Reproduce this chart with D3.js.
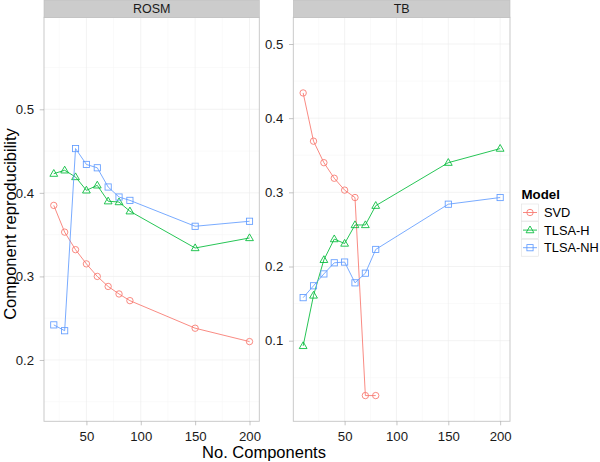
<!DOCTYPE html>
<html><head><meta charset="utf-8">
<script src="https://cdn.jsdelivr.net/npm/d3@7"></script>
<style>body{margin:0;background:#fff}svg{font-family:"Liberation Sans",Arial,sans-serif}</style>
</head><body><svg id="c" width="600" height="462"></svg>
<script>
const seriesNames = ["SVD", "TLSA-H", "TLSA-NH"];
const colors = ["#F8766D", "#00BA38", "#619CFF"];
const shapes = ["circle", "triangle", "square"];

// ROSM panel
const rosmX = [20, 30, 40, 50, 60, 70, 80, 90, 150, 200];
const rosmSVD = [0.385, 0.353, 0.332, 0.315, 0.300, 0.288, 0.279, 0.271, 0.238, 0.222];
const rosmTLSAH = [0.423, 0.427, 0.419, 0.403, 0.409, 0.390, 0.389, 0.378, 0.334, 0.346];
const rosmTLSANH = [0.242, 0.235, 0.453, 0.434, 0.430, 0.407, 0.395, 0.391, 0.360, 0.366];

// TB panel
const tbX = [10, 20, 30, 40, 50, 60, 70, 80, 150, 200];
const tbSVDX = [10, 20, 30, 40, 50, 60, 70, 80];
const tbSVD = [0.434, 0.369, 0.340, 0.319, 0.303, 0.293, 0.026, 0.026];
const tbTLSAH = [0.093, 0.161, 0.209, 0.237, 0.231, 0.256, 0.256, 0.282, 0.340, 0.359];
const tbTLSANH = [0.158, 0.174, 0.190, 0.205, 0.206, 0.178, 0.191, 0.223, 0.284, 0.293];

const xTicks = [50, 100, 150, 200];
const xMinor = [25, 75, 125, 175];
const rosmYTicks = [0.2, 0.3, 0.4, 0.5];
const rosmYMinor = [0.15, 0.25, 0.35, 0.45, 0.55];
const tbYTicks = [0.1, 0.2, 0.3, 0.4, 0.5];
const tbYMinor = [0.05, 0.15, 0.25, 0.35, 0.45];

const svg = d3.select("#c");
const panelTop = 17.3, panelBottom = 421.3, stripTop = 0;

const panels = [
  { title: "ROSM", x0: 44, x1: 259.3, xdom: [11, 209], ydom: [0.1266, 0.6101],
    yTicks: rosmYTicks, yMinor: rosmYMinor,
    series: [ {x: rosmX, y: rosmSVD}, {x: rosmX, y: rosmTLSAH}, {x: rosmX, y: rosmTLSANH} ] },
  { title: "TB", x0: 293.3, x1: 510, xdom: [0.5, 209.5], ydom: [-0.0087, 0.536],
    yTicks: tbYTicks, yMinor: tbYMinor,
    series: [ {x: tbSVDX, y: tbSVD}, {x: tbX, y: tbTLSAH}, {x: tbX, y: tbTLSANH} ] }
];

function drawShape(g, type, cx, cy, color) {
  if (type === "circle") {
    g.append("circle").attr("cx", cx).attr("cy", cy).attr("r", 3.2)
      .attr("fill", "none").attr("stroke", color).attr("stroke-width", 0.85);
  } else if (type === "triangle") {
    const s = 4.1;
    g.append("path").attr("d", `M${cx},${cy - s}L${cx + s * 0.95},${cy + s * 0.65}L${cx - s * 0.95},${cy + s * 0.65}Z`)
      .attr("fill", "none").attr("stroke", color).attr("stroke-width", 0.85);
  } else {
    const s = 3.1;
    g.append("rect").attr("x", cx - s).attr("y", cy - s).attr("width", 2 * s).attr("height", 2 * s)
      .attr("fill", "none").attr("stroke", color).attr("stroke-width", 0.85);
  }
}

panels.forEach(p => {
  const x = d3.scaleLinear().domain(p.xdom).range([p.x0, p.x1]);
  const y = d3.scaleLinear().domain(p.ydom).range([panelBottom, panelTop]);
  const g = svg.append("g");
  g.append("rect").attr("x", p.x0).attr("y", panelTop).attr("width", p.x1 - p.x0).attr("height", panelBottom - panelTop).attr("fill", "#fff");
  p.yMinor.forEach(v => g.append("line").attr("x1", p.x0).attr("x2", p.x1).attr("y1", y(v)).attr("y2", y(v)).attr("stroke", "#F7F7F7").attr("stroke-width", 0.6));
  xMinor.forEach(v => g.append("line").attr("y1", panelTop).attr("y2", panelBottom).attr("x1", x(v)).attr("x2", x(v)).attr("stroke", "#F7F7F7").attr("stroke-width", 0.6));
  p.yTicks.forEach(v => g.append("line").attr("x1", p.x0).attr("x2", p.x1).attr("y1", y(v)).attr("y2", y(v)).attr("stroke", "#EBEBEB").attr("stroke-width", 0.6));
  xTicks.forEach(v => g.append("line").attr("y1", panelTop).attr("y2", panelBottom).attr("x1", x(v)).attr("x2", x(v)).attr("stroke", "#EBEBEB").attr("stroke-width", 0.6));
  g.append("rect").attr("x", p.x0).attr("y", panelTop).attr("width", p.x1 - p.x0).attr("height", panelBottom - panelTop)
    .attr("fill", "none").attr("stroke", "#C4C4C4").attr("stroke-width", 0.9);
  g.append("rect").attr("x", p.x0).attr("y", stripTop).attr("width", p.x1 - p.x0).attr("height", panelTop - stripTop)
    .attr("fill", "#CCCCCC").attr("stroke", "#BDBDBD").attr("stroke-width", 0.6);
  g.append("text").attr("x", (p.x0 + p.x1) / 2).attr("y", 13.3).attr("text-anchor", "middle")
    .attr("font-size", 12.5).attr("fill", "#1a1a1a").text(p.title);
  const xa = d3.axisBottom(x).tickValues(xTicks).tickSize(4).tickPadding(6).tickFormat(d3.format("d"));
  const xg = g.append("g").attr("transform", `translate(0,${panelBottom})`).call(xa);
  const ya = d3.axisLeft(y).tickValues(p.yTicks).tickSize(4.3).tickPadding(5.7).tickFormat(d3.format(".1f"));
  const yg = g.append("g").attr("transform", `translate(${p.x0},0)`).call(ya);
  [xg, yg].forEach(a => {
    a.select(".domain").remove();
    a.selectAll(".tick line").attr("stroke", "#9E9E9E").attr("stroke-width", 0.6);
    a.selectAll(".tick text").attr("font-size", 13.2).attr("fill", "#1a1a1a").attr("font-family", "Liberation Sans, Arial, sans-serif");
  });
  p.series.forEach((s, i) => {
    const pts = s.x.map((xv, j) => [x(xv), y(s.y[j])]);
    g.append("path").attr("d", d3.line()(pts)).attr("fill", "none").attr("stroke", colors[i]).attr("stroke-width", 0.85);
    pts.forEach(pt => drawShape(g, shapes[i], pt[0], pt[1], colors[i]));
  });
});

svg.append("text").attr("x", 264).attr("y", 458).attr("text-anchor", "middle").attr("font-size", 16.5).attr("fill", "#000").text("No. Components");
svg.append("text").attr("transform", "translate(15.5,224) rotate(-90)").attr("text-anchor", "middle").attr("font-size", 16.5).attr("fill", "#000").text("Component reproducibility");

const lg = svg.append("g");
lg.append("text").attr("x", 521.5).attr("y", 199).attr("font-size", 13.3).attr("font-weight", "bold").attr("fill", "#000").text("Model");
seriesNames.forEach((n, i) => {
  const cy = 212.5 + i * 17.6;
  lg.append("rect").attr("x", 521.5).attr("y", cy - 8.5).attr("width", 17).attr("height", 17)
    .attr("fill", "#fff").attr("stroke", "#E0E0E0").attr("stroke-width", 0.6);
  lg.append("line").attr("x1", 523).attr("x2", 537).attr("y1", cy).attr("y2", cy).attr("stroke", colors[i]).attr("stroke-width", 0.85);
  drawShape(lg, shapes[i], 530, cy, colors[i]);
  lg.append("text").attr("x", 544).attr("y", cy + 4.5).attr("font-size", 12.8).attr("fill", "#000").text(n);
});
</script></body></html>
